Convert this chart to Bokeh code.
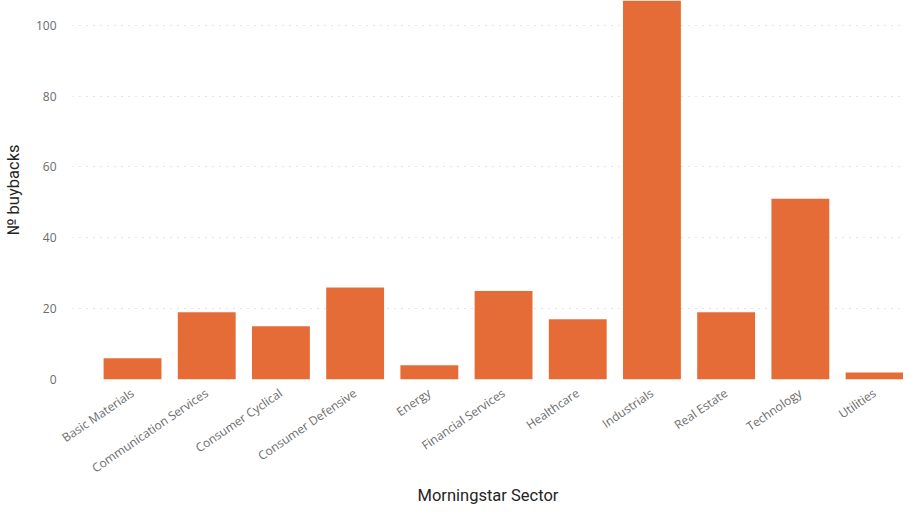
from bokeh.plotting import figure
from bokeh.models import Range1d, FixedTicker, ColumnDataSource
from bokeh.embed import file_html
from bokeh.resources import INLINE

sectors = ["Basic Materials", "Communication Services", "Consumer Cyclical",
           "Consumer Defensive", "Energy", "Financial Services", "Healthcare",
           "Industrials", "Real Estate", "Technology", "Utilities"]
buybacks = [6, 19, 15, 26, 4, 25, 17, 107, 19, 51, 2]
y_ticks = [0, 20, 40, 60, 80, 100]

idx = list(range(len(sectors)))
src = ColumnDataSource(dict(x=idx, top=buybacks, name=sectors))

p = figure(width=903, height=508, output_backend="svg", toolbar_location=None,
           x_range=Range1d(-0.809, 10.39), y_range=Range1d(0, 107),
           min_border_left=72, min_border_right=0, min_border_top=0,
           min_border_bottom=128)
p.outline_line_color = None
p.background_fill_color = "white"
p.border_fill_color = "white"

p.vbar(x="x", top="top", bottom=0, width=0.78, source=src,
       fill_color="#E66C37", line_color=None)

# Axes
p.xaxis.ticker = FixedTicker(ticks=idx)
p.xaxis.major_label_overrides = {i: s for i, s in enumerate(sectors)}
p.xaxis.major_label_orientation = 0.6
p.xaxis.axis_line_color = None
p.xaxis.major_tick_line_color = None
p.xaxis.minor_tick_line_color = None
p.xaxis.major_label_text_font = "Open Sans"
p.xaxis.major_label_text_font_size = "12px"
p.xaxis.major_label_text_color = "#6b6b6b"
p.xaxis.major_label_standoff = 6
p.xaxis.axis_label = "Morningstar Sector"
p.xaxis.axis_label_text_font = "Roboto"
p.xaxis.axis_label_text_font_style = "normal"
p.xaxis.axis_label_text_font_size = "16.5px"
p.xaxis.axis_label_text_color = "#252423"
p.xaxis.axis_label_standoff = 0

p.yaxis.ticker = FixedTicker(ticks=y_ticks)
p.yaxis.axis_line_color = None
p.yaxis.major_tick_line_color = None
p.yaxis.minor_tick_line_color = None
p.yaxis.major_label_text_font = "Open Sans"
p.yaxis.major_label_text_font_size = "12px"
p.yaxis.major_label_text_color = "#6b6b6b"
p.yaxis.major_label_standoff = 10
p.yaxis.axis_label = "№ buybacks"
p.yaxis.axis_label_text_font = "Roboto"
p.yaxis.axis_label_text_font_style = "normal"
p.yaxis.axis_label_text_font_size = "16.5px"
p.yaxis.axis_label_text_color = "#252423"
p.yaxis.axis_label_standoff = 10

p.xgrid.grid_line_color = None
p.ygrid.ticker = FixedTicker(ticks=y_ticks)
p.ygrid.grid_line_color = "#c8c8c8"
p.ygrid.grid_line_dash = "1 6"
p.ygrid.grid_line_width = 1

open("out.html", "w").write(file_html(p, INLINE))
